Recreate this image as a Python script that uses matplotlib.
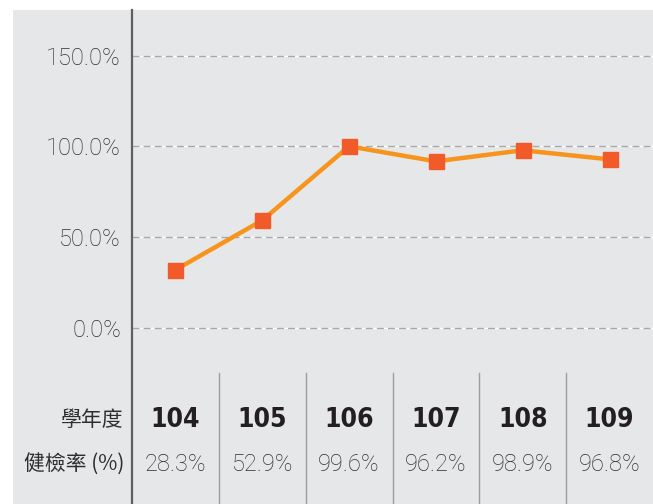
import matplotlib
matplotlib.use("Agg")
import matplotlib.pyplot as plt
from matplotlib.patches import Rectangle

years = ["104", "105", "106", "107", "108", "109"]
rate_labels = ["28.3%", "52.9%", "99.6%", "96.2%", "98.9%", "96.8%"]
# where the markers sit on the picture
rate_points = [32.0, 59.3, 100.1, 91.8, 97.9, 92.9]
y_ticks = [0, 50, 100, 150]

bg = "#e6e7e9"
txt = "#2e2e30"
W, H = 653, 504
light_font = ["Roboto", "DejaVu Sans"]

fig = plt.figure(figsize=(W / 100, H / 100), dpi=100)
fig.patch.set_facecolor("white")
# grey panel behind the labels on the left
fig.patches.append(Rectangle((13 / W, 0), (132 - 13) / W, 494 / H,
                             transform=fig.transFigure, facecolor=bg,
                             edgecolor="none", zorder=-5))

ax = fig.add_axes([132 / W, 0, (W - 132) / W, 494 / H])
ax.set_facecolor(bg)
ax.set_xlim(0, 6)
ax.set_ylim(-97.0, 175.2)

for s in ["top", "right", "bottom"]:
    ax.spines[s].set_visible(False)
ax.spines["left"].set_color("#5f5f61")
ax.spines["left"].set_linewidth(1.6)

ax.set_xticks([])
ax.set_yticks(y_ticks)
ax.set_yticklabels([f"{v:.1f}%" for v in y_ticks], family=light_font,
                   fontweight="light", fontsize=17, color=txt)
ax.tick_params(axis="y", length=0, pad=8)

for v in y_ticks:
    ax.axhline(v, color="white", lw=1.0, zorder=1)
    ax.axhline(v, color="#a7a8aa", lw=1.0, ls=(0, (5, 3)), zorder=1.5)

xs = [i + 0.5 for i in range(len(years))]
ax.plot(xs, rate_points, color="#f7941d", lw=3.2, zorder=3)
ax.plot(xs, rate_points, ls="none", marker="s", ms=10.8,
        color="#f15a29", zorder=4)

# table under the chart
for i in range(1, len(years)):
    ax.plot([i, i], [-24.8, -97.0], color="#9d9ea0", lw=1, zorder=2)

row_year = -50.7
row_rate = -75.5
for x, yr, rl in zip(xs, years, rate_labels):
    ax.text(x, row_year, yr, ha="center", va="center", fontsize=19,
            fontweight="bold", fontstretch="condensed",
            family=["DejaVu Sans"], color="#231f20")
    ax.text(x, row_rate, rl, ha="center", va="center", fontsize=17,
            fontweight="light", family=light_font, color=txt)

fig.text(124 / W, 1 - 420 / H, "學年度", ha="right", va="center",
         fontsize=15, fontweight="light",
         family=["Noto Sans CJK TC", "DejaVu Sans"], color=txt)
fig.text(124 / W, 1 - 465 / H, "健檢率 (%)", ha="right", va="center",
         fontsize=15, fontweight="light",
         family=["Noto Sans CJK TC", "DejaVu Sans"], color=txt)

fig.savefig("out.png", dpi=100, facecolor=fig.get_facecolor())
